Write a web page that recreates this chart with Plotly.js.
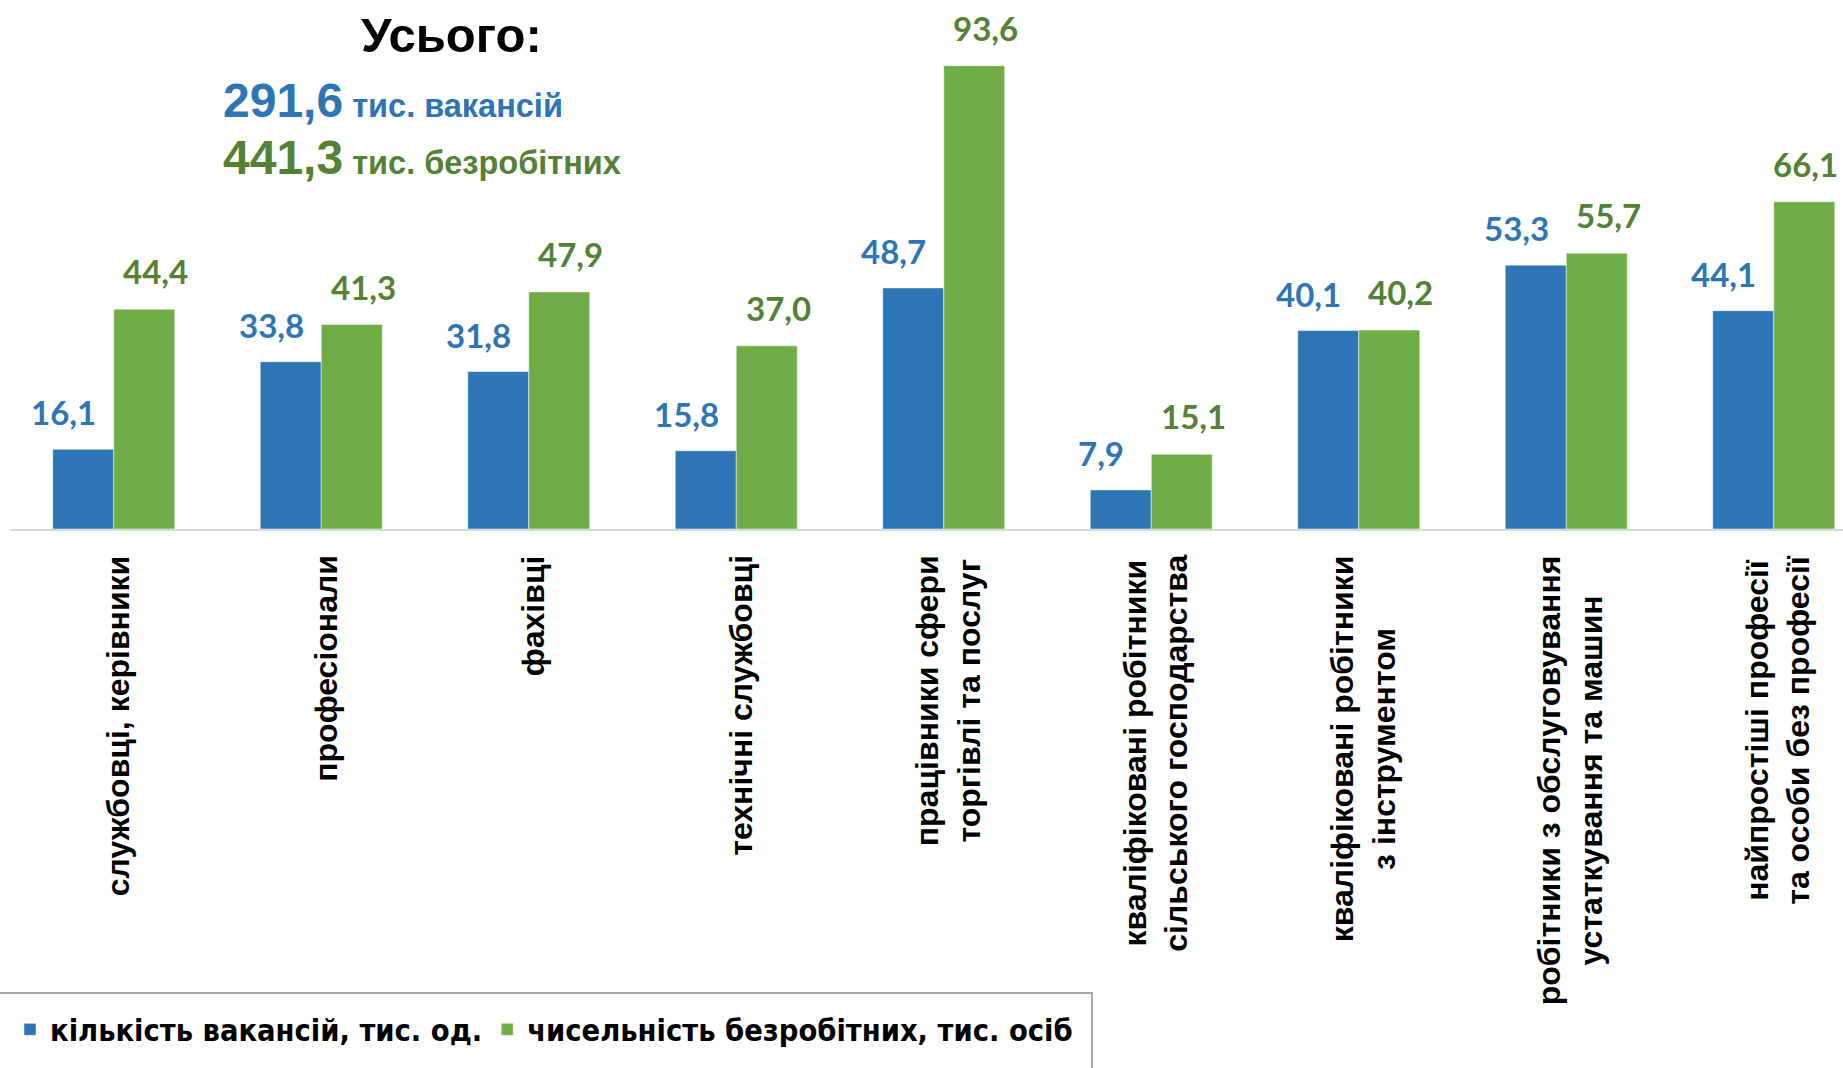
<!DOCTYPE html>
<html>
<head>
<meta charset="utf-8">
<script src="https://cdn.plot.ly/plotly-3.0.1.min.js"></script>
<style>
  html, body { margin: 0; padding: 0; background: #ffffff; }
  #chart { width: 1843px; height: 1068px; }
</style>
</head>
<body>
<div id="chart"></div>
<script>
// ---- Data ----
const categories = [
  "службовці, керівники",
  "професіонали",
  "фахівці",
  "технічні службовці",
  "працівники сфери<br>торгівлі та послуг",
  "кваліфіковані робітники<br>сільського господарства",
  "кваліфіковані робітники<br>з інструментом",
  "робітники з обслуговування<br>устаткування та машин",
  "найпростіші професії<br>та особи без професії"
];
const vacancies = [16.1, 33.8, 31.8, 15.8, 48.7, 7.9, 40.1, 53.3, 44.1];
const unemployed = [44.4, 41.3, 47.9, 37.0, 93.6, 15.1, 40.2, 55.7, 66.1];
const seriesNames = ["кількість вакансій, тис. од.", "чисельність безробітних, тис. осіб"];
const totalTitle = "Усього:";
const totalVacancies = "291,6";
const totalUnemployed = "441,3";
const totalVacText = "тис. вакансій";
const totalUnempText = "тис. безробітних";

// ---- Styles ----
const BLUE = "#2E75B6";
const GREEN = "#70AD47";
const GREEN_TXT = "#548235";
const CONDENSED = "'DejaVu Sans Condensed', 'DejaVu Sans', sans-serif";
const LABELFONT = "Lato, 'Open Sans', sans-serif";
const ARIAL = "'Liberation Sans', Arial, sans-serif";

const fmt = v => v.toFixed(1).replace(".", ",");

const traces = [
  {
    type: "bar", name: seriesNames[0], x: categories, y: vacancies,
    marker: { color: BLUE, line: { color: "#ffffff", width: 0.5 } },
    hoverinfo: "skip"
  },
  {
    type: "bar", name: seriesNames[1], x: categories, y: unemployed,
    marker: { color: GREEN, line: { color: "#ffffff", width: 0.5 } },
    hoverinfo: "skip"
  }
];

const annotations = [];
const last = categories.length - 1;
categories.forEach((c, i) => {
  annotations.push({
    x: c, y: vacancies[i], xref: "x", yref: "y", text: fmt(vacancies[i]),
    showarrow: false, xanchor: "center", yanchor: "middle", xshift: -50, yshift: 37,
    font: { family: LABELFONT, size: 33, color: BLUE, weight: "bold" }
  });
  annotations.push({
    x: c, y: unemployed[i], xref: "x", yref: "y", text: fmt(unemployed[i]),
    showarrow: false, xanchor: "center", yanchor: "middle",
    xshift: i === last ? 32 : 42, yshift: 38,
    font: { family: LABELFONT, size: 33, color: GREEN_TXT, weight: "bold" }
  });
  annotations.push({
    x: c, y: 0, xref: "x", yref: "y", text: "<b>" + c + "</b>",
    showarrow: false, textangle: -90, xanchor: "center", yanchor: "top",
    xshift: 4, yshift: -24, align: "center",
    font: { family: ARIAL, size: 32, color: "#000000" }
  });
});

// Totals block (paper coords; plot domain = pixels 0..529 vertically)
const H = 529;
const py = Y => (H - Y) / H;
const PW = 1833;
const px = X => (X - 10) / PW;
annotations.push({
  xref: "paper", yref: "paper", x: px(451), y: py(35), xanchor: "center", yanchor: "middle",
  text: "<b>" + totalTitle + "</b>", showarrow: false,
  font: { family: ARIAL, size: 49, color: "#000000" }
});
annotations.push({
  xref: "paper", yref: "paper", x: px(221), y: py(100), xanchor: "left", yanchor: "middle",
  text: "<b><span style='font-size:48px'>" + totalVacancies + "</span> " + totalVacText + "</b>",
  showarrow: false, font: { family: ARIAL, size: 32.5, color: BLUE }
});
annotations.push({
  xref: "paper", yref: "paper", x: px(221), y: py(158), xanchor: "left", yanchor: "middle",
  text: "<b><span style='font-size:48px'>" + totalUnemployed + "</span> " + totalUnempText + "</b>",
  showarrow: false, font: { family: ARIAL, size: 32.5, color: GREEN_TXT }
});

const shapes = [{
  type: "rect", xref: "paper", yref: "paper",
  x0: px(-2), x1: px(1092), y0: py(993), y1: py(1080),
  line: { color: "#A6A6A6", width: 2 }, fillcolor: "rgba(0,0,0,0)", layer: "above"
}];

const layout = {
  width: 1843, height: 1068,
  margin: { l: 10, r: 0, t: 0, b: 539, pad: 0 },
  paper_bgcolor: "#ffffff", plot_bgcolor: "#ffffff",
  barmode: "group", bargap: 0.412, bargroupgap: 0,
  showlegend: true,
  legend: {
    orientation: "h", x: px(10), xanchor: "left", y: py(1003), yanchor: "top",
    borderwidth: 0, bgcolor: "rgba(0,0,0,0)",
    font: { family: CONDENSED, size: 30.5, color: "#000000", weight: "bold" },
    itemwidth: 30, traceorder: "normal"
  },
  xaxis: {
    type: "category", range: [-0.5, -0.5 + PW / 207.5],
    showticklabels: false, ticks: "", showgrid: false, zeroline: false,
    showline: true, linecolor: "#D9D9D9", linewidth: 2, fixedrange: true
  },
  yaxis: {
    range: [0, H / 4.95], visible: false, showgrid: false, zeroline: false, fixedrange: true
  },
  shapes: shapes,
  annotations: annotations
};

Plotly.newPlot("chart", traces, layout, { displayModeBar: false, staticPlot: true });
</script>
</body>
</html>
